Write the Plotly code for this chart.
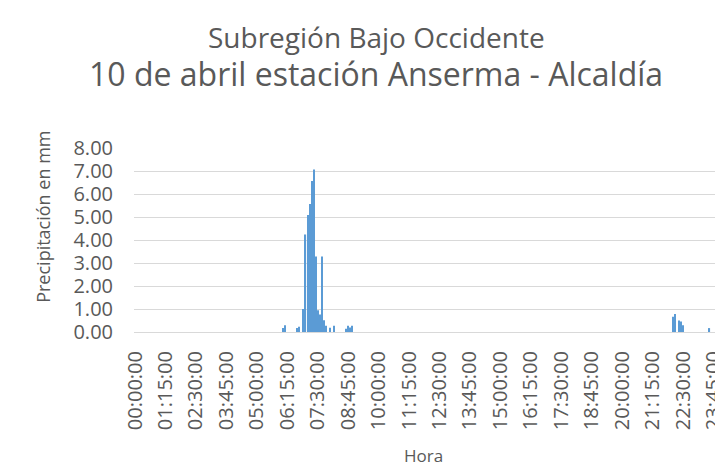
import plotly.graph_objects as go

# Categories: every 5 minutes of the day
horas = [f"{m // 60:02d}:{m % 60:02d}:00" for m in range(0, 24 * 60, 5)]

# Non-zero precipitation records (mm)
horas_lluvia = ["06:05:00", "06:10:00", "06:40:00", "06:45:00", "06:55:00", "07:00:00",
                "07:05:00", "07:10:00", "07:15:00", "07:20:00", "07:25:00", "07:30:00",
                "07:35:00", "07:40:00", "07:45:00", "07:50:00", "08:00:00", "08:10:00",
                "08:40:00", "08:45:00", "08:50:00", "08:55:00", "22:05:00", "22:10:00",
                "22:20:00", "22:25:00", "22:30:00", "23:35:00"]
precipitacion = [0.17, 0.29, 0.17, 0.23, 1.00, 4.24,
                 5.09, 5.57, 6.56, 7.07, 3.28, 0.95,
                 0.76, 3.28, 0.51, 0.27, 0.19, 0.27,
                 0.14, 0.27, 0.20, 0.27, 0.66, 0.78,
                 0.50, 0.46, 0.29, 0.17]

tick_labels = horas[::15]
y_ticks = [0, 1, 2, 3, 4, 5, 6, 7, 8]

GREY = "#595959"
FONT = "Open Sans"

fig = go.Figure()
fig.add_trace(go.Bar(x=horas_lluvia, y=precipitacion, marker=dict(color="#5B9BD5", line=dict(width=0))))

fig.update_layout(
    width=715, height=467,
    margin=dict(l=134, r=0, t=148, b=135, autoexpand=False),
    plot_bgcolor="white", paper_bgcolor="white",
    bargap=0.45,
    showlegend=False,
    font=dict(family=FONT, color=GREY),
    xaxis=dict(
        type="category", categoryorder="array", categoryarray=horas,
        range=[-0.5, 285.7], automargin=False,
        tickmode="array", tickvals=tick_labels, ticktext=tick_labels,
        tickangle=-90, tickfont=dict(size=20, color=GREY, family=FONT),
        showgrid=False, showline=False, ticks="", zeroline=False,
        ticklabelstandoff=14,
    ),
    yaxis=dict(
        range=[0, 8], tickvals=y_ticks, tickformat=".2f", automargin=False,
        tickfont=dict(size=20, color=GREY, family=FONT),
        showgrid=True, gridcolor="#D9D9D9", gridwidth=1,
        zeroline=True, zerolinecolor="#D9D9D9", zerolinewidth=1,
        showline=False, ticks="", ticklabelstandoff=20,
    ),
    annotations=[
        dict(text="Subregión Bajo Occidente", x=0.418, y=1.602, xref="paper", yref="paper",
             showarrow=False, font=dict(size=28, color=GREY, family=FONT), xanchor="center", yanchor="middle"),
        dict(text="10 de abril estación Anserma - Alcaldía", x=0.416, y=1.406, xref="paper", yref="paper",
             showarrow=False, font=dict(size=32, color=GREY, family=FONT), xanchor="center", yanchor="middle"),
        dict(text="Precipitación en mm", x=-0.156, y=0.628, xref="paper", yref="paper", textangle=-90,
             showarrow=False, font=dict(size=18, color=GREY, family=FONT), xanchor="center", yanchor="middle"),
        dict(text="Hora", x=0.499, y=-0.672, xref="paper", yref="paper",
             showarrow=False, font=dict(size=17, color=GREY, family=FONT), xanchor="center", yanchor="middle"),
    ],
)

fig.write_html("out.html", config={"displayModeBar": False},
               post_script="document.body.style.margin='0';document.body.style.overflow='hidden';")
